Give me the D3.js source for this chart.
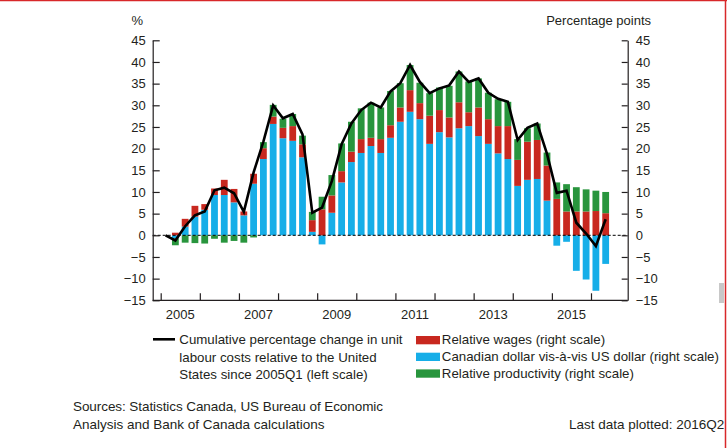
<!DOCTYPE html>
<html>
<head>
<meta charset="utf-8">
<script src="https://cdn.jsdelivr.net/npm/d3@7"></script>
<style>
  body { margin: 0; background: #fff; }
  svg { display: block; font-family: "Liberation Sans", Arial, sans-serif; }
  .axis text { font-size: 13px; fill: #231f20; }
  .axis path, .axis line { stroke: #231f20; stroke-width: 1.2; }
</style>
</head>
<body>
<svg id="chart" width="727" height="448"></svg>
<script>
// Quarters, 2005Q1 to 2016Q2
const quarters = [
  '2005Q1', '2005Q2', '2005Q3', '2005Q4', '2006Q1', '2006Q2', '2006Q3', '2006Q4',
  '2007Q1', '2007Q2', '2007Q3', '2007Q4', '2008Q1', '2008Q2', '2008Q3', '2008Q4',
  '2009Q1', '2009Q2', '2009Q3', '2009Q4', '2010Q1', '2010Q2', '2010Q3', '2010Q4',
  '2011Q1', '2011Q2', '2011Q3', '2011Q4', '2012Q1', '2012Q2', '2012Q3', '2012Q4',
  '2013Q1', '2013Q2', '2013Q3', '2013Q4', '2014Q1', '2014Q2', '2014Q3', '2014Q4',
  '2015Q1', '2015Q2', '2015Q3', '2015Q4', '2016Q1', '2016Q2',
];

// Canadian dollar vis-a-vis US dollar (right scale)
const cadUsd = [
  0, -0.7, 2.0, 4.3, 5.9, 9.3, 9.3, 7.6,
  4.6, 11.9, 17.6, 25.7, 22.4, 21.8, 18.0, 0.8,
  -2.1, 5.2, 12.2, 16.9, 19.0, 20.6, 19.0, 22.5,
  26.2, 28.5, 26.8, 21.1, 23.8, 22.6, 24.7, 25.2,
  22.9, 21.1, 18.9, 17.6, 11.4, 12.8, 13.0, 8.0,
  -2.4, -1.5, -8.2, -10.2, -12.8, -6.6,
];

// Relative wages (right scale)
const wages = [
  0, 0.6, 1.8, 2.5, 1.3, 1.5, 3.5, 3.1,
  0.9, 2.3, 2.5, 1.7, 2.4, 3.4, 3.0, 2.7,
  6.0, 4.0, 2.6, 2.4, 3.2, 1.9, 3.2, 2.9,
  3.3, 5.0, 3.7, 6.5, 5.1, 4.6, 6.0, 3.2,
  6.6, 5.7, 6.3, 7.6, 6.0, 8.8, 9.0, 8.1,
  8.4, 5.5, 5.5, 5.5, 5.6, 5.1,
];

// Relative productivity (right scale)
const productivity = [
  0, -1.6, -1.7, -1.8, -1.9, -0.8, -1.7, -1.3,
  -1.7, -0.5, 1.4, 2.7, 2.1, 2.8, 2.0, 1.9,
  2.9, 4.7, 6.4, 6.9, 7.1, 8.1, 7.3, 7.9,
  5.6, 5.8, 4.7, 5.2, 5.2, 7.3, 7.1, 7.1,
  6.7, 6.1, 6.2, 5.6, 4.8, 3.1, 3.8, 3.0,
  3.8, 6.3, 5.6, 5.1, 4.7, 4.9,
];

// Cumulative % change in unit labour costs relative to the US (left scale)
const unitLabourCost = [
  0, -1.2, 2.1, 4.6, 5.5, 10.4, 11.0, 9.7,
  5.4, 14.5, 21.6, 30.0, 27.0, 28.0, 23.3, 5.2,
  6.4, 12.5, 21.0, 25.8, 28.9, 30.6, 29.5, 33.2,
  35.1, 39.3, 35.4, 32.8, 33.9, 34.6, 37.8, 35.4,
  36.2, 32.9, 31.5, 30.8, 22.0, 24.8, 25.8, 18.8,
  9.8, 10.3, 2.9, 0.4, -2.5, 3.7,
];

const yTicks = [-15, -10, -5, 0, 5, 10, 15, 20, 25, 30, 35, 40, 45];
const yearLabels = ['2005', '2007', '2009', '2011', '2013', '2015'];
const yearTicks = ['2005', '2006', '2007', '2008', '2009', '2010', '2011', '2012',
  '2013', '2014', '2015', '2016'];

const seriesKeys = ['cad', 'wages', 'prod'];
const colors = { cad: '#16aee8', wages: '#c8281f', prod: '#28953d' };

const legendRight = [
  { key: 'wages', label: 'Relative wages (right scale)' },
  { key: 'cad', label: 'Canadian dollar vis-à-vis US dollar (right scale)' },
  { key: 'prod', label: 'Relative productivity (right scale)' },
];
const legendLine = [
  'Cumulative percentage change in unit',
  'labour costs relative to the United',
  'States since 2005Q1 (left scale)',
];

// time value at the middle of a quarter
const quarterTime = (q) => +q.slice(0, 4) + (+q.slice(5) - 1) / 4 + 0.125;

const table = quarters.map((q, i) => ({
  t: quarterTime(q),
  cad: cadUsd[i],
  wages: wages[i],
  prod: productivity[i],
  ulc: unitLabourCost[i],
}));

const svg = d3.select('#chart');
const textColor = '#231f20';

const plot = { left: 152.7, right: 627.7, top: 40.3, bottom: 300.3 };

const x = d3.scaleLinear().domain([2005, 2016]).range([160.7, 591]);
const y = d3.scaleLinear().domain([-15, 45]).range([plot.bottom, plot.top]);

// Frame lines of the screenshot
svg.append('rect').attr('x', 0).attr('y', 0).attr('width', 727).attr('height', 448).attr('fill', '#fff');
svg.append('line').attr('x1', 0).attr('x2', 727).attr('y1', 0.5).attr('y2', 0.5)
  .attr('stroke', '#d8282a').attr('stroke-width', 1.5);
svg.append('line').attr('x1', 725.5).attr('x2', 725.5).attr('y1', 0).attr('y2', 448)
  .attr('stroke', '#d8282a').attr('stroke-width', 1.5);
svg.append('rect').attr('x', 719).attr('y', 283).attr('width', 5).attr('height', 20)
  .attr('fill', '#c8c8c8');

// Stacked bars
const stack = d3.stack().keys(seriesKeys).offset(d3.stackOffsetDiverging);
const stacked = stack(table);
const barW = 6.8;

const bars = svg.append('g').attr('class', 'bars');
bars.selectAll('g')
  .data(stacked)
  .join('g')
  .attr('fill', (d) => colors[d.key])
  .selectAll('rect')
  .data((d) => d)
  .join('rect')
  .attr('x', (d) => x(d.data.t) - barW / 2)
  .attr('width', barW)
  .attr('y', (d) => y(Math.max(d[0], d[1])))
  .attr('height', (d) => Math.abs(y(d[0]) - y(d[1])));

// Zero line
svg.append('line')
  .attr('x1', plot.left).attr('x2', plot.right)
  .attr('y1', y(0)).attr('y2', y(0))
  .attr('stroke', '#000').attr('stroke-width', 1)
  .attr('stroke-dasharray', '3,2');

// Axes
svg.append('g').attr('class', 'axis')
  .attr('transform', `translate(${plot.left},0)`)
  .call(d3.axisLeft(y).tickValues(yTicks).tickSizeInner(-7).tickSizeOuter(0).tickPadding(7));
svg.append('g').attr('class', 'axis')
  .attr('transform', `translate(${plot.right},0)`)
  .call(d3.axisRight(y).tickValues(yTicks).tickSizeInner(-6).tickSizeOuter(0).tickPadding(8));

const xAxis = svg.append('g').attr('class', 'axis')
  .attr('transform', `translate(0,${plot.bottom})`)
  .call(d3.axisBottom(x).tickValues(yearTicks.map(Number)).tickSizeInner(-7)
    .tickSizeOuter(0).tickFormat(''));
xAxis.select('.domain').remove();
xAxis.append('line')
  .attr('x1', plot.left).attr('x2', plot.right)
  .attr('stroke', textColor).attr('stroke-width', 1.2);

svg.append('g')
  .selectAll('text')
  .data(yearLabels)
  .join('text')
  .attr('x', (d) => x(+d + 0.5))
  .attr('y', 318.5)
  .attr('text-anchor', 'middle')
  .attr('font-size', 13)
  .attr('fill', textColor)
  .text((d) => d);

// Unit labour cost line
const line = d3.line().x((d) => x(d.t)).y((d) => y(d.ulc));
svg.append('path')
  .datum(table)
  .attr('d', line)
  .attr('fill', 'none')
  .attr('stroke', '#000')
  .attr('stroke-width', 2.6)
  .attr('stroke-linejoin', 'miter');

// Axis titles
svg.append('text').attr('x', 143).attr('y', 24.5).attr('text-anchor', 'end')
  .attr('font-size', 13).attr('fill', textColor).text('%');
svg.append('text').attr('x', 651).attr('y', 24.5).attr('text-anchor', 'end')
  .attr('font-size', 13).attr('fill', textColor).text('Percentage points');

// Legend
const legend = svg.append('g').attr('font-size', 13.3).attr('fill', textColor);
legend.append('line')
  .attr('x1', 153).attr('x2', 175).attr('y1', 339.3).attr('y2', 339.3)
  .attr('stroke', '#000').attr('stroke-width', 2.6);
legend.selectAll('text.ll')
  .data(legendLine)
  .join('text')
  .attr('class', 'll')
  .attr('x', 179.3)
  .attr('y', (d, i) => 344 + i * 17.7)
  .text((d) => d);

const legR = legend.selectAll('g.lr')
  .data(legendRight)
  .join('g')
  .attr('class', 'lr')
  .attr('transform', (d, i) => `translate(416,${336 + i * 16.7})`);
legR.append('rect').attr('width', 24).attr('height', 8.3).attr('fill', (d) => colors[d.key]);
legR.append('text').attr('x', 25.8).attr('y', 8.2).text((d) => d.label);

// Notes
const notes = svg.append('g').attr('font-size', 13.5).attr('fill', textColor);
notes.append('text').attr('x', 73).attr('y', 411)
  .attr('textLength', 310).attr('lengthAdjust', 'spacing')
  .text('Sources: Statistics Canada, US Bureau of Economic');
notes.append('text').attr('x', 73).attr('y', 428.5)
  .text('Analysis and Bank of Canada calculations');
notes.append('text').attr('x', 569).attr('y', 428.5)
  .text('Last data plotted: 2016Q2');
</script>
</body>
</html>
